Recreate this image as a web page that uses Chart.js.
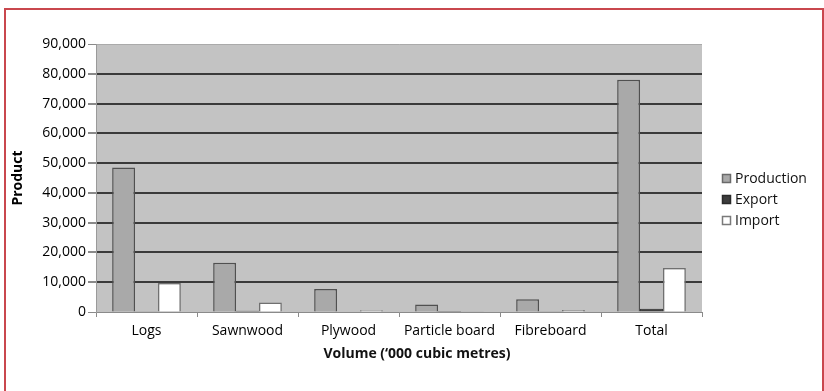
<!DOCTYPE html>
<html>
<head>
<meta charset="utf-8">
<script src="https://cdn.jsdelivr.net/npm/chart.js@4/dist/chart.umd.min.js"></script>
<style>
  html, body { margin: 0; padding: 0; background: #fff; }
  #wrap { position: relative; width: 824px; height: 391px; overflow: hidden; }
  #frame { position: absolute; left: 4px; top: 8px; width: 816px; height: 400px;
           border: 2px solid #c9474e; border-bottom: none; }
  canvas { position: absolute; left: 0; top: 0; }
</style>
</head>
<body>
<div id="wrap">
  <div id="frame"></div>
  <canvas id="bar" width="824" height="391"></canvas>
</div>
<script>
// volumes in '000 cubic metres
const categories = ['Logs', 'Sawnwood', 'Plywood', 'Particle board', 'Fibreboard', 'Total'];
const production = [48500, 16500, 7700, 2500, 4300, 78000];
const exported   = [100, 400, 200, 300, 100, 1100];
const imported   = [9700, 3200, 600, 100, 700, 14800];

const yMax = 90000;
const yStep = 10000;

const FONT = '"Open Sans", "DejaVu Sans", sans-serif';

const legendItems = [
  { text: 'Production', fill: '#a9a9a9', stroke: '#6a6a6a' },
  { text: 'Export', fill: '#3d3d3d', stroke: '#2a2a2a' },
  { text: 'Import', fill: '#ffffff', stroke: '#7a7a7a' }
];

// grey plot background
const plotBg = {
  id: 'plotBg',
  beforeDraw(chart) {
    const a = chart.chartArea, c = chart.ctx;
    c.save();
    c.fillStyle = '#c3c3c3';
    c.fillRect(a.left, a.top, a.right - a.left, a.bottom - a.top);
    c.restore();
  }
};

// legend on the right and x axis title
const extras = {
  id: 'extras',
  afterDraw(chart) {
    const c = chart.ctx;
    c.save();
    c.font = '14px ' + FONT;
    c.textBaseline = 'middle';
    legendItems.forEach(function(it, i){
      const y = 179 + i * 21;
      c.fillStyle = it.fill;
      c.fillRect(722, y - 5, 9, 9);
      c.strokeStyle = it.stroke;
      c.lineWidth = 1.5;
      c.strokeRect(722.5, y - 4.5, 8, 8);
      c.fillStyle = '#111';
      c.fillText(it.text, 735, y);
    });
    c.font = 'bold 14px ' + FONT;
    c.textAlign = 'center';
    c.fillText('Volume (\u2018000 cubic metres)', 417, 354);
    c.restore();
  }
};

const data = {
  labels: categories,
  datasets: [
    {
      label: 'Production',
      data: production,
      backgroundColor: '#a9a9a9',
      borderColor: '#505050',
      borderWidth: 1.5
    },
    {
      label: 'Export',
      data: exported,
      backgroundColor: '#3d3d3d',
      borderColor: '#2a2a2a',
      borderWidth: 1
    },
    {
      label: 'Import',
      data: imported,
      backgroundColor: '#ffffff',
      borderColor: '#707070',
      borderWidth: 1.5
    }
  ]
};

const config = {
  type: 'bar',
  data: data,
  plugins: [plotBg, extras],
  options: {
    responsive: false,
    animation: false,
    categoryPercentage: 0.68,
    barPercentage: 1.0,
    layout: { padding: { left: 0, top: 44, right: 122, bottom: 0 } },
    plugins: {
      legend: { display: false },
      tooltip: { enabled: false }
    },
    scales: {
      x: {
        afterFit(scale) { scale.height = 79; },
        grid: {
          offset: true,
          drawOnChartArea: false,
          tickLength: 5,
          tickColor: '#8a8a8a'
        },
        border: { color: '#8a8a8a', width: 1 },
        ticks: {
          color: '#000',
          padding: 6,
          font: { family: FONT, size: 14 },
          maxRotation: 0,
          autoSkip: false
        }
      },
      y: {
        min: 0,
        max: yMax,
        afterFit(scale) { scale.width = 96; },
        grid: {
          color: function(ctx){
            if (ctx.tick.value === yMax) return '#aaaaaa';
            if (ctx.tick.value === 0) return '#8a8a8a';
            return '#3a3a3a';
          },
          lineWidth: function(ctx){
            return (ctx.tick.value === yMax || ctx.tick.value === 0) ? 1 : 2;
          },
          tickLength: 8,
          tickColor: '#8a8a8a'
        },
        border: { color: '#9a9a9a', width: 1 },
        ticks: {
          stepSize: yStep,
          color: '#000',
          padding: 2,
          font: { family: FONT, size: 14 },
          callback: function(v){ return v.toLocaleString('en-US'); }
        },
        title: {
          display: true,
          text: 'Product',
          color: '#000',
          padding: { top: 10, bottom: 0 },
          font: { family: FONT, size: 14, weight: 'bold' }
        }
      }
    }
  }
};

const chart = new Chart('bar', config);
</script>
</body>
</html>
